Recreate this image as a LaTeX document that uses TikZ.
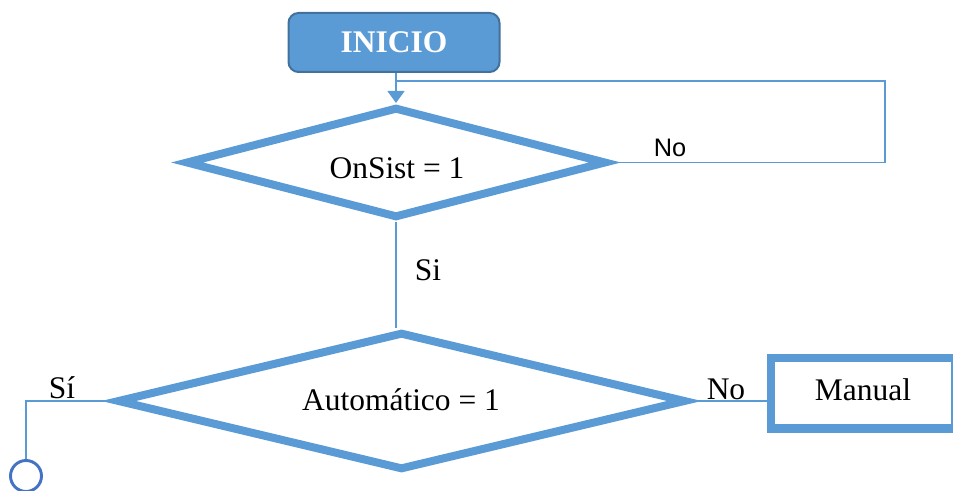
\documentclass[tikz,border=0pt]{standalone}
\usepackage{fontspec}
\setmainfont{Liberation Serif}
\newfontfamily\labelsans{Liberation Sans}
\usetikzlibrary{arrows.meta,shapes.geometric}
\definecolor{flowblue}{HTML}{5B9BD5}
\definecolor{flowedge}{HTML}{41719C}
\definecolor{connblue}{HTML}{4472C4}
\tikzset{
  x=0.75pt, y=-0.75pt,
  txt/.style={font=\fontsize{23.6}{28}\selectfont},
  startbox/.style={rectangle, rounded corners=7.5pt, draw=flowedge, fill=flowblue,
    line width=1.5pt, minimum width=158.25pt, minimum height=44.25pt,
    text=white, font=\fontsize{23.6}{28}\selectfont\bfseries},
  decision/.style={diamond, draw=flowblue, fill=white, line width=6pt, line join=miter,
    aspect=4, inner sep=0pt, txt},
  procbox/.style={rectangle, draw=flowblue, fill=white, line width=6pt,
    minimum width=138pt, minimum height=52.5pt, txt},
  link/.style={draw=flowblue, line width=1.1pt},
  connector/.style={circle, draw=connblue, line width=2.2pt, minimum size=23.25pt, inner sep=0pt},
}
\begin{document}
\begin{tikzpicture}
\useasboundingbox (0,0) rectangle (953,491);

% flowchart blocks
\node[startbox] (inicio) at (394,42.5) {INICIO};
\node[decision, minimum width=315.75pt, minimum height=83.25pt] (d1) at (396,162.5) {};
\node[decision, minimum width=426.75pt, minimum height=103.5pt] (d2) at (401.5,401) {};
\node[procbox] (manual) at (863,393.5) {};
\node[connector] (conn) at (26,476) {};

% texts
\node[txt] (t1) at (397,168) {OnSist = 1};
\node[txt, anchor=base] (t2) at (401,411) {Automático = 1};
\node[txt, anchor=base] (t3) at (863,401) {Manual};
\node[txt, anchor=base] (lsi) at (428,281) {Si};
\node[txt, anchor=base] (lsi2) at (62,398) {Sí};
\node[txt, anchor=base] (lno2) at (726,400) {No};
\node[font=\labelsans\fontsize{19}{22}\selectfont, anchor=base] (lno1) at (670,157) {No};

% connectors
\coordinate (loopin) at (395,81);
\coordinate (loopturn) at (885,81);
\coordinate (leftturn) at (26,401);
\draw[link, -{Triangle[width=12.75pt,length=9pt]}] (inicio.south -| d1.north) -- (d1.north);
\draw[link] (d1.east) -| (loopturn) -- (loopin);
\draw[link] (d1.south) -- (d1.south |- d2.north);
\draw[link] (d2.east) -- (d2.east -| manual.west);
\draw[link] (d2.west) -- (leftturn) -- (conn.north);
\end{tikzpicture}
\end{document}
